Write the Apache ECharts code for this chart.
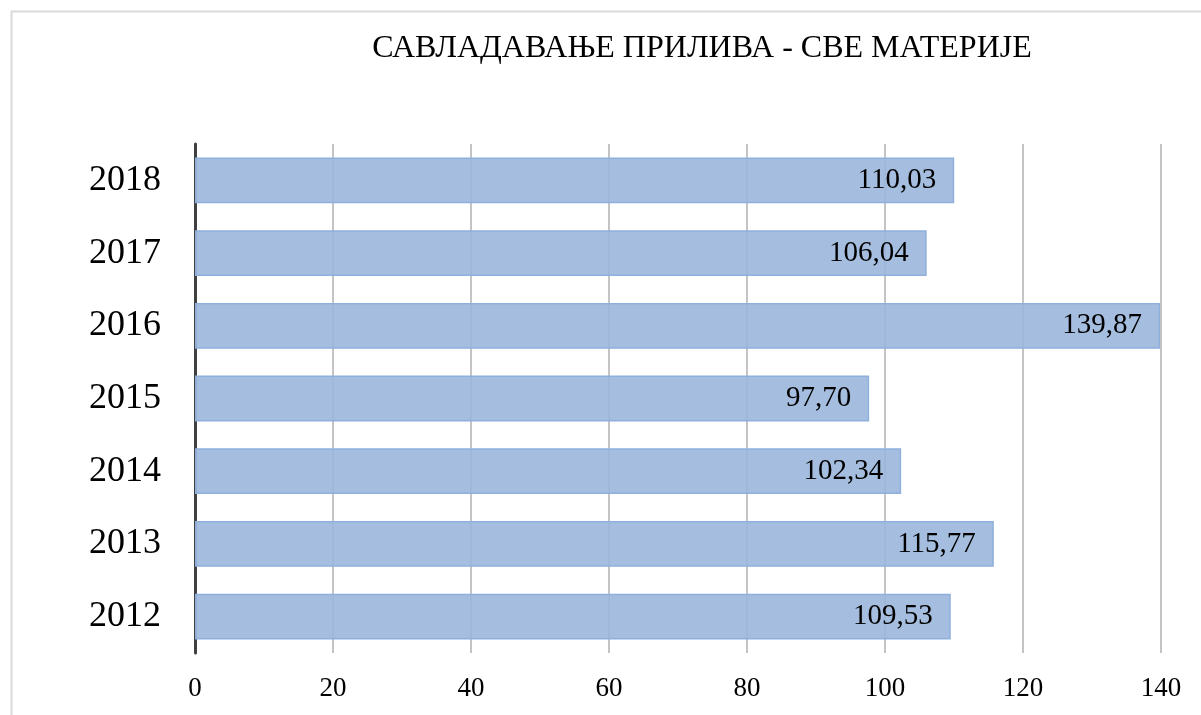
<!DOCTYPE html>
<html>
<head>
<meta charset="utf-8">
<script src="https://cdn.jsdelivr.net/npm/echarts@6/dist/echarts.min.js"></script>
<style>
html,body{margin:0;padding:0;background:#fff;}
#c{width:1201px;height:715px;}
</style>
</head>
<body>
<div id="c"></div>
<script>
const titleText = 'САВЛАДАВАЊЕ ПРИЛИВА - СВЕ МАТЕРИЈЕ';
const years = ['2012','2013','2014','2015','2016','2017','2018'];
const values = [109.53, 115.77, 102.34, 97.70, 139.87, 106.04, 110.03];
const xTicks = [0, 20, 40, 60, 80, 100, 120, 140];

const serif = '"Liberation Serif", "Times New Roman", serif';
const chart = echarts.init(document.getElementById('c'), null, {renderer: 'canvas'});
chart.setOption({
  animation: false,
  backgroundColor: '#fff',
  graphic: [{
    type: 'rect',
    left: 9, top: 9,
    shape: {width: 1260, height: 760},
    style: {fill: 'none', stroke: '#d9d9d9', lineWidth: 2},
    z: -10
  }],
  title: {
    text: titleText,
    left: 697, top: 28,
    textAlign: 'center',
    textStyle: {fontFamily: serif, fontSize: 32, fontWeight: 'normal', color: '#000'}
  },
  grid: {left: 195, right: 40, top: 144, bottom: 62, containLabel: false},
  xAxis: {
    type: 'value',
    min: xTicks[0], max: xTicks[xTicks.length - 1], interval: 20,
    axisLine: {show: false},
    axisTick: {show: false},
    axisLabel: {fontFamily: serif, fontSize: 27, color: '#000', margin: 22},
    splitLine: {show: true, lineStyle: {color: '#c4c4c4', width: 2}}
  },
  yAxis: {
    type: 'category',
    data: years,
    axisLine: {show: true, lineStyle: {color: '#404040', width: 3}},
    axisTick: {show: false},
    axisLabel: {fontFamily: serif, fontSize: 36, color: '#000', margin: 34},
    splitLine: {show: false}
  },
  series: [{
    type: 'bar',
    data: values,
    barCategoryGap: '37%',
    itemStyle: {color: 'rgba(155,183,220,0.9)', borderColor: '#8fb0dc', borderWidth: 1.5},
    label: {
      show: true,
      position: 'insideRight',
      distance: 18,
      fontFamily: serif, fontSize: 29, color: '#000',
      formatter: p => p.value.toFixed(2).replace('.', ',')
    },
    z: 1
  }]
});
</script>
</body>
</html>
